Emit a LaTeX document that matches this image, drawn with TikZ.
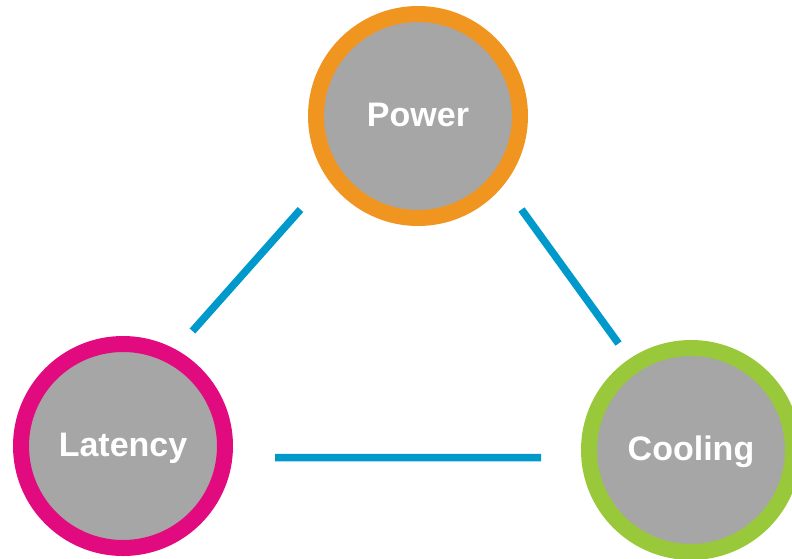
\documentclass[tikz,border=0pt]{standalone}
\usepackage{fontspec}
\setmainfont{Liberation Sans}
\usetikzlibrary{calc}
\definecolor{pwrc}{HTML}{F0951F}
\definecolor{latc}{HTML}{E20A7F}
\definecolor{colc}{HTML}{99C83B}
\definecolor{wirec}{HTML}{0099CC}
\definecolor{diskc}{HTML}{A6A6A6}
\tikzset{blob/.style={circle,fill=diskc,line width=16pt,minimum size=204pt,inner sep=0pt,text=white,text depth=3pt,font=\fontsize{34}{40}\selectfont\bfseries},link/.style={draw=wirec,line width=7.5pt}}

\begin{document}
\begin{tikzpicture}[x=1pt,y=-1pt]
  \useasboundingbox (0,0) rectangle (792,558);
  \node[blob,draw=pwrc] (pw) at (418,116) {Power};
  \node[blob,draw=latc] (lt) at (123,446) {Latency};
  \node[blob,draw=colc] (cl) at (691,450) {Cooling};
  \coordinate (pl) at ($(pw)+(-117.5,93.5)$);
  \coordinate (lp) at ($(lt)+(69.5,-115)$);
  \coordinate (pc) at ($(pw)+(103.5,93.5)$);
  \coordinate (cp) at ($(cl)+(-72.5,-106.5)$);
  \coordinate (lc) at ($(lt)+(152,11.5)$);
  \coordinate (cc) at ($(cl)+(-150,7.5)$);
  \draw[link] (pl) -- (lp)
  (pc) -- (cp)
  (lc) -- (cc)
  ;
\end{tikzpicture}
\end{document}
